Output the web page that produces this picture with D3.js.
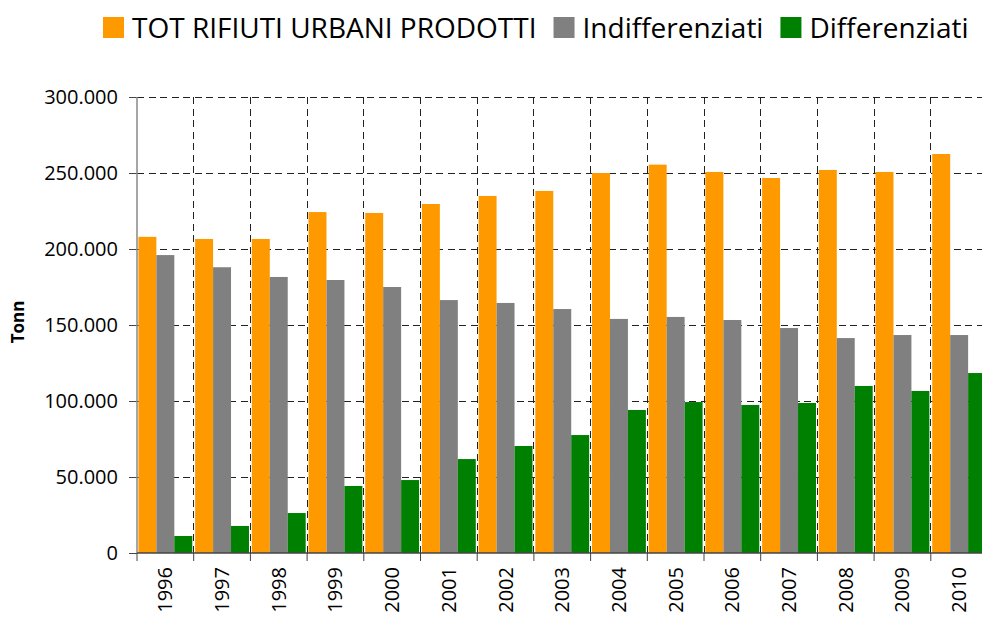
<!DOCTYPE html>
<html lang="en">
  <head>
    <meta charset="UTF-8">
    <title>Rifiuti urbani</title>
    <script src="https://cdn.jsdelivr.net/npm/d3@7"></script>
    <style>
      body { margin: 0; background: #fff; }
      text { font-family: "Open Sans", sans-serif; fill: #000; }
      .grid line { stroke: #222; stroke-dasharray: 7,4.5; shape-rendering: crispEdges; }
      .axis path { display: none; }
    </style>
  </head>
  <body>
    <svg id="chart"></svg>

    <script>
      var years = ["1996", "1997", "1998", "1999", "2000", "2001", "2002", "2003",
                   "2004", "2005", "2006", "2007", "2008", "2009", "2010"];
      var totale = [208000, 206600, 206600, 224300, 223700, 229600, 234900, 238200,
                    250000, 255500, 250700, 246700, 252000, 250700, 262500];
      var indifferenziati = [196000, 188000, 181600, 179600, 175000, 166400, 164500, 160500,
                             154000, 155300, 153300, 148000, 141400, 143400, 143400];
      var differenziati = [11200, 17800, 26300, 44100, 48000, 61800, 70400, 77600,
                           94100, 99300, 97400, 98700, 109900, 106600, 118400];
      var seriesNames = ["TOT RIFIUTI URBANI PRODOTTI", "Indifferenziati", "Differenziati"];
      var seriesColors = ["#ff9900", "#808080", "#008000"];
      var yTicks = [0, 50000, 100000, 150000, 200000, 250000, 300000];

      var width = 982, height = 617;
      var margin = {top: 97, right: -5.5, bottom: 64, left: 137};

      var svg = d3.select("#chart").attr("width", width).attr("height", height);

      var data = years.map(function(y, i) {
        return {year: y, values: [totale[i], indifferenziati[i], differenziati[i]]};
      });

      var x0 = d3.scaleBand()
          .domain(years)
          .range([margin.left, width - margin.right])
          .paddingInner(0.05)
          .paddingOuter(0.025);

      var x1 = d3.scaleBand()
          .domain([0, 1, 2])
          .range([0, x0.bandwidth()]);

      var y = d3.scaleLinear()
          .domain([0, 300000])
          .range([height - margin.bottom, margin.top]);

      var it = d3.formatLocale({decimal: ",", thousands: ".", grouping: [3], currency: ["", ""]});
      var fmt = it.format(",");

      var step = x0.step();
      var bounds = years.map(function(d) { return x0(d) - x0.paddingInner() * step / 2; });

      // horizontal grid
      svg.append("g")
          .attr("class", "grid")
          .selectAll("line")
          .data(yTicks.slice(1))
          .enter().append("line")
          .attr("x1", margin.left)
          .attr("x2", width)
          .attr("y1", function(d) { return y(d); })
          .attr("y2", function(d) { return y(d); });

      // vertical grid at category boundaries
      svg.append("g")
          .attr("class", "grid")
          .selectAll("line")
          .data(bounds.slice(1))
          .enter().append("line")
          .attr("x1", function(d) { return d; })
          .attr("x2", function(d) { return d; })
          .attr("y1", y(300000))
          .attr("y2", y(0));

      // bars
      var groups = svg.append("g")
          .selectAll("g")
          .data(data)
          .enter().append("g")
          .attr("transform", function(d) { return "translate(" + x0(d.year) + ",0)"; });

      groups.selectAll("rect")
          .data(function(d) { return d.values.map(function(v, k) { return {k: k, v: v}; }); })
          .enter().append("rect")
          .attr("x", function(d) { return x1(d.k); })
          .attr("width", x1.bandwidth())
          .attr("y", function(d) { return y(d.v); })
          .attr("height", function(d) { return y(0) - y(d.v); })
          .attr("fill", function(d) { return seriesColors[d.k]; });

      // y axis
      var yAxis = svg.append("g")
          .attr("class", "axis")
          .attr("transform", "translate(" + margin.left + ",0)")
          .call(d3.axisLeft(y).tickValues(yTicks).tickFormat(fmt).tickSize(8).tickPadding(11));
      yAxis.selectAll("line").attr("stroke", "#444");
      yAxis.selectAll("text").style("font-size", "20px");

      svg.append("line")
          .attr("x1", margin.left).attr("x2", margin.left)
          .attr("y1", y(300000)).attr("y2", y(0))
          .attr("stroke", "#888").attr("stroke-width", 1.5);

      // x axis baseline and boundary ticks
      svg.append("line")
          .attr("x1", margin.left).attr("x2", width)
          .attr("y1", y(0)).attr("y2", y(0))
          .attr("stroke", "#444").attr("stroke-width", 1.5);

      svg.append("g")
          .selectAll("line")
          .data(bounds)
          .enter().append("line")
          .attr("x1", function(d) { return d; })
          .attr("x2", function(d) { return d; })
          .attr("y1", y(0))
          .attr("y2", y(0) + 8)
          .attr("stroke", "#444");

      svg.append("g")
          .selectAll("text")
          .data(years)
          .enter().append("text")
          .attr("transform", function(d) {
            return "translate(" + (x0(d) + x0.bandwidth() / 2) + "," + (y(0) + 14) + ") rotate(-90)";
          })
          .attr("text-anchor", "end")
          .attr("dy", "0.35em")
          .style("font-size", "20px")
          .text(function(d) { return d; });

      // y title
      svg.append("text")
          .attr("transform", "translate(18," + (y(150000) - 3) + ") rotate(-90)")
          .attr("text-anchor", "middle")
          .attr("dy", "0.35em")
          .style("font-size", "17px")
          .style("font-weight", "bold")
          .text("Tonn");

      // legend
      var legend = svg.append("g");
      var lx = 103;
      seriesNames.forEach(function(name, k) {
        legend.append("rect")
            .attr("x", lx).attr("y", 17)
            .attr("width", 21).attr("height", 21)
            .attr("fill", seriesColors[k]);
        var t = legend.append("text")
            .attr("x", lx + 29)
            .attr("y", 38)
            .style("font-size", "28px")
            .text(name);
        lx += 29 + t.node().getComputedTextLength() + 17;
      });
    </script>
  </body>
</html>
